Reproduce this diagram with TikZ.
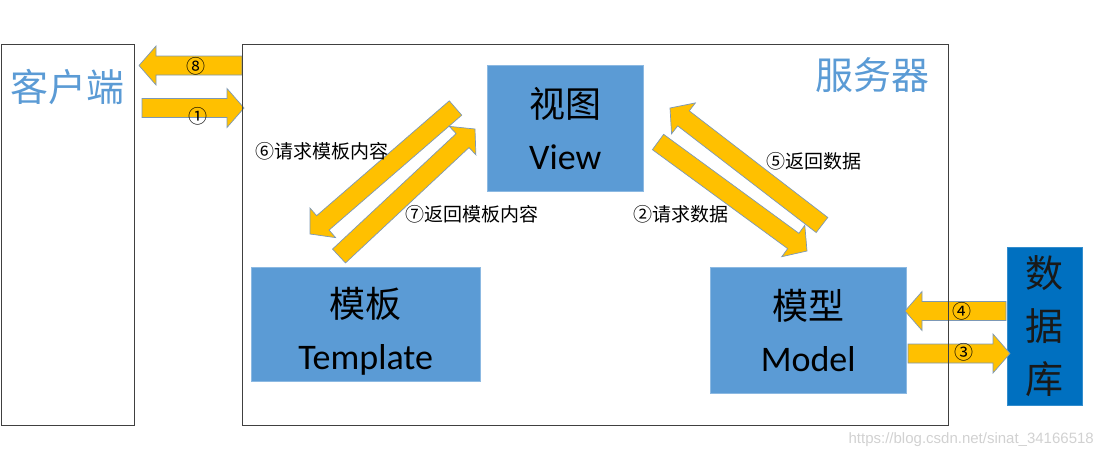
\documentclass[tikz,border=0pt]{standalone}
\usepackage{fontspec}
\setmainfont{Carlito}
\newfontfamily\cjk{Noto Sans CJK SC}
\newfontfamily\wmfont{Liberation Sans}
\usetikzlibrary{positioning,calc}
\definecolor{boxblue}{HTML}{5B9BD5}
\definecolor{dbblue}{HTML}{0070C0}
\definecolor{arrowgold}{HTML}{FFC000}
\definecolor{arrowedge}{HTML}{7C98B6}
\definecolor{framegray}{HTML}{404040}
\tikzstyle{frame} = [rectangle, draw=framegray, line width=1pt, anchor=north west, inner sep=0pt]
\tikzstyle{comp} = [rectangle, draw=boxblue!70!white, fill=boxblue, anchor=north west, align=center,
                    font={\fontsize{36}{52}\selectfont}]
\tikzstyle{barrow} = [fill=arrowgold, draw=arrowedge, line width=0.7pt, line join=miter]
\tikzstyle{num} = [font={\cjk\fontsize{19}{19}\selectfont}, inner sep=0pt]
\tikzstyle{title} = [font={\cjk\fontsize{38}{38}\selectfont}, text=boxblue, inner sep=0pt]

\newcommand{\shaftw}{9.5pt}
\newcommand{\headw}{19.5pt}
\newcommand{\headl}{17pt}
% block arrow from tail coordinate #1 to tip coordinate #2
\newcommand{\blockarrow}[2]{%
  \coordinate (#2-base) at ($(#2)!\headl!(#1)$);
  \filldraw[barrow] ($(#1)!\shaftw!90:(#2)$) -- ($(#2-base)!\shaftw!90:(#2)$)
    -- ($(#2-base)!\headw!90:(#2)$) -- (#2) -- ($(#2-base)!\headw!-90:(#2)$)
    -- ($(#2-base)!\shaftw!-90:(#2)$) -- ($(#1)!\shaftw!-90:(#2)$) -- cycle;
}

\begin{document}
\begin{tikzpicture}[x=1pt, y=-1pt]
	\useasboundingbox (0,0) rectangle (1101,459);

	% Client
	\node[frame, minimum width=133, minimum height=381] (client) at (1,44) {};
	\node[title, anchor=west] (clienttitle) at (10,87) {客户端};

	% Components
	\node[comp, minimum width=156, minimum height=126] (view) at (487,65) {{\cjk 视图}\\View};
	\node[comp, minimum width=229, minimum height=114] (template) at (251,267) {};
	\node[align=center, font={\fontsize{36}{52}\selectfont}] (templatetext) at ([yshift=-7pt]template.center) {{\cjk 模板}\\Template};
	\node[comp, minimum width=196, minimum height=126] (model) at (710,267) {{\cjk 模型}\\Model};

	% Database
	\node[rectangle, fill=dbblue, draw=dbblue!80!white, anchor=north west, align=center,
		minimum width=75, minimum height=158, text=black!90,
		font={\cjk\fontsize{38}{53}\selectfont}] (db) at (1007,247) {数\\据\\库};

	% Arrow ends
	\coordinate (s8from) at (242,65.5);   \coordinate (s8to) at (139,65.5);
	\coordinate (s1from) at (142,108);    \coordinate (s1to) at (244,108);
	\coordinate (s6from) at (455.5,108);  \coordinate (s6to) at (310,234);
	\coordinate (s7from) at (339,256);    \coordinate (s7to) at (475,129);
	\coordinate (s2from) at (658,142);    \coordinate (s2to) at (807,251);
	\coordinate (s5from) at (822,225);    \coordinate (s5to) at (670,108);
	\coordinate (s4from) at (1006,311);   \coordinate (s4to) at (905,311);
	\coordinate (s3from) at (908,353.5);  \coordinate (s3to) at (1010,353.5);

	% Arrows
	\blockarrow{s8from}{s8to}
	\blockarrow{s1from}{s1to}
	\blockarrow{s6from}{s6to}
	\blockarrow{s7from}{s7to}
	\blockarrow{s2from}{s2to}
	\blockarrow{s5from}{s5to}
	\blockarrow{s4from}{s4to}
	\blockarrow{s3from}{s3to}

	% Server
	\node[frame, minimum width=706, minimum height=381] (server) at (242,44) {};
	\node[title] (servertitle) at (872,75) {服务器};

	% Labels
	\node[num] (n8) at (196,66) {⑧};
	\node[num] (n1) at (198,116) {①};
	\node[num] (n4) at (962,311) {④};
	\node[num] (n3) at (964,352) {③};
	\node[num, anchor=west] (l6) at (255,151) {⑥请求模板内容};
	\node[num, anchor=west] (l7) at (405,214) {⑦返回模板内容};
	\node[num, anchor=west] (l2) at (633,214) {②请求数据};
	\node[num, anchor=west] (l5) at (766,161) {⑤返回数据};

	\node[font={\wmfont\fontsize{15}{15}\selectfont}, text=black!18, anchor=east, inner sep=0pt]
		(mark) at (1094,440) {https://blog.csdn.net/sinat\_34166518};
\end{tikzpicture}
\end{document}
